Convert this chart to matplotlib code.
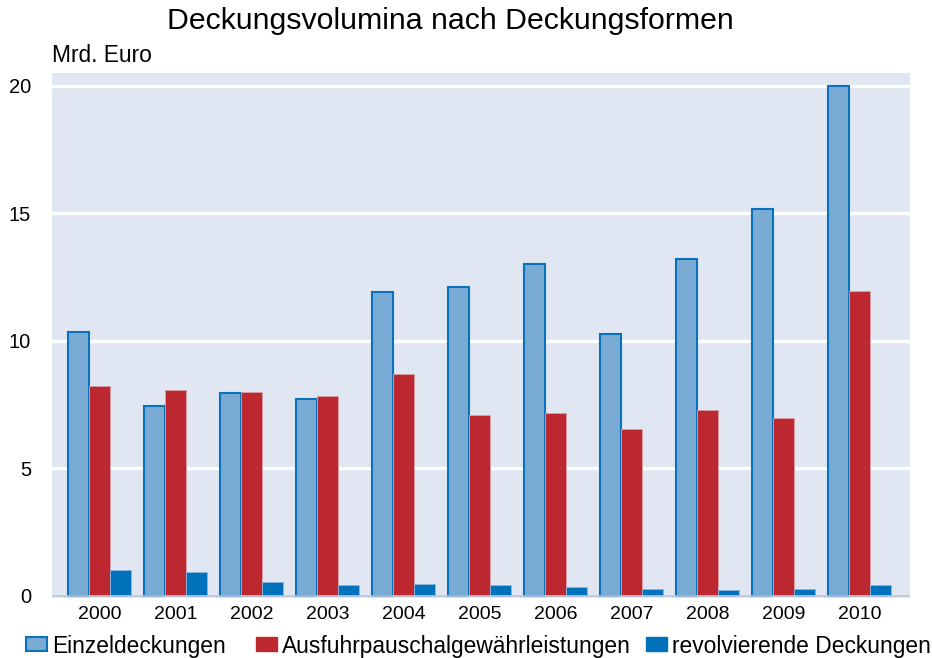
import matplotlib
matplotlib.use("Agg")
import matplotlib.pyplot as plt
import numpy as np
from matplotlib.patches import Patch

plt.rcParams['font.family'] = ['Liberation Sans', 'DejaVu Sans']

years = ["2000", "2001", "2002", "2003", "2004", "2005", "2006", "2007", "2008", "2009", "2010"]
einzel = [10.35, 7.45, 7.96, 7.73, 11.92, 12.12, 13.02, 10.27, 13.2, 15.18, 20.0]
ausfuhr = [8.24, 8.08, 8.0, 7.84, 8.7, 7.1, 7.18, 6.55, 7.3, 6.98, 11.96]
revolv = [1.02, 0.94, 0.55, 0.43, 0.47, 0.43, 0.35, 0.27, 0.24, 0.27, 0.43]
series_names = ["Einzeldeckungen", "Ausfuhrpauschalgewährleistungen", "revolvierende Deckungen"]
yticks = [0, 5, 10, 15, 20]

c_einzel = "#7aabd5"
c_einzel_edge = "#0a72bb"
c_ausfuhr = "#bd2830"
c_revolv = "#0071bb"
bg = "#e0e7f3"

W, H = 932, 658
fig = plt.figure(figsize=(W/100, H/100), dpi=100)
ax = fig.add_axes([52/W, 1-598/H, (910-52)/W, (598-73)/H])
ax.set_facecolor(bg)

x = np.arange(len(years))
w = 0.277
ax.bar(x - w, einzel, w, color=c_einzel, edgecolor=c_einzel_edge, linewidth=1.5, zorder=3)
ax.bar(x, ausfuhr, w, color=c_ausfuhr, edgecolor="#d9a0a8", linewidth=0.6, zorder=3)
ax.bar(x + w, revolv, w, color=c_revolv, edgecolor="#8fb8dc", linewidth=0.6, zorder=3)

ax.set_xlim(-0.625, len(years) - 1 + 0.665)
ax.set_ylim(-0.08, 20.5)
ax.set_yticks(yticks)
ax.set_yticklabels([str(t) for t in yticks], fontsize=14.5)
ax.set_xticks(x)
ax.set_xticklabels(years, fontsize=14)
ax.tick_params(length=0)
ax.tick_params(axis='y', pad=15)
ax.tick_params(axis='x', pad=6)
for s in ax.spines.values():
    s.set_visible(False)
for t in yticks[1:]:
    ax.axhline(t, color="white", linewidth=2.4, zorder=1)
ax.axhline(0, color="#b9c7df", linewidth=1.2, zorder=4)

fig.text(450/W, 1-29/H, "Deckungsvolumina nach Deckungsformen", ha="center", va="baseline", fontsize=21.8)
fig.text(52/W, 1-62/H, "Mrd. Euro", ha="left", va="baseline", fontsize=16.4)

handles = [Patch(facecolor=c_einzel, edgecolor=c_einzel_edge, linewidth=1.5),
           Patch(facecolor=c_ausfuhr, edgecolor=c_ausfuhr),
           Patch(facecolor=c_revolv, edgecolor=c_revolv)]
patch_x = [26, 256, 646]
fs_leg = 16.4
em = fs_leg * 100 / 72
for h, name, px in zip(handles, series_names, patch_x):
    fig.legend([h], [name], loc="center left", bbox_to_anchor=(px/W, 1-646/H),
               frameon=False, fontsize=fs_leg, handlelength=21/em, handleheight=13/em,
               handletextpad=5/em, borderpad=0, borderaxespad=0)

fig.savefig("out.png", dpi=100)
